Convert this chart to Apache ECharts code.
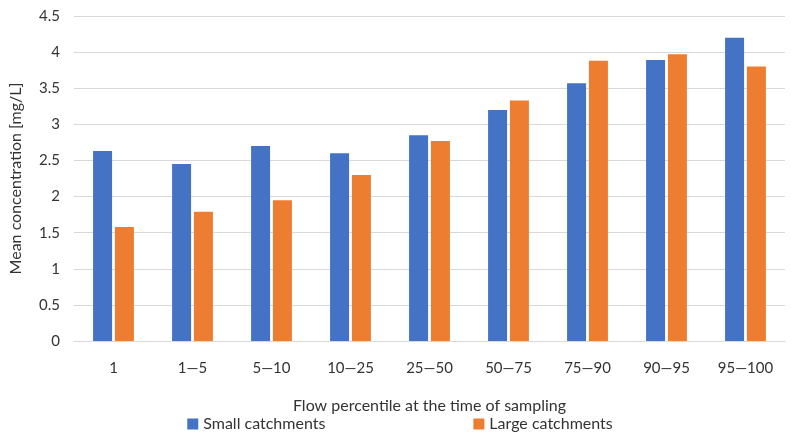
<!DOCTYPE html>
<html><head><meta charset="utf-8">
<script src="https://cdn.jsdelivr.net/npm/echarts@6/dist/echarts.min.js"></script>
<style>html,body{margin:0;background:#fff}#c{width:800px;height:445px}</style>
</head><body><div id="c"></div>
<script>
var categories = ['1', '1—5', '5—10', '10—25', '25—50', '50—75', '75—90', '90—95', '95—100'];
var smallValues = [2.63, 2.45, 2.70, 2.60, 2.85, 3.20, 3.57, 3.89, 4.20];
var largeValues = [1.58, 1.79, 1.95, 2.30, 2.77, 3.33, 3.88, 3.97, 3.80];

var font = 'Lato, "Noto Sans", sans-serif';
var chart = echarts.init(document.getElementById('c'));
chart.setOption({
  textStyle: { fontFamily: font },
  grid: { left: 73, right: 15, top: 16, bottom: 104 },
  legend: {
    bottom: 8, itemGap: 148, itemWidth: 11, itemHeight: 11, icon: 'rect',
    textStyle: { fontSize: 16, color: '#333', fontFamily: font },
    data: ['Small catchments', 'Large catchments']
  },
  xAxis: {
    type: 'category', data: categories,
    name: 'Flow percentile at the time of sampling', nameLocation: 'middle', nameGap: 57,
    nameTextStyle: { fontSize: 16, color: '#333' },
    axisLine: { lineStyle: { color: '#d9d9d9' } }, axisTick: { show: false },
    axisLabel: { fontSize: 15, color: '#333', margin: 20 }
  },
  yAxis: {
    type: 'value', min: 0, max: 4.5, interval: 0.5,
    name: 'Mean concentration [mg/L]', nameLocation: 'middle', nameGap: 50,
    nameTextStyle: { fontSize: 16, color: '#333' },
    axisLabel: { fontSize: 15, color: '#333', margin: 14 },
    splitLine: { lineStyle: { color: '#d9d9d9' } }
  },
  series: [
    { name: 'Small catchments', type: 'bar', data: smallValues, barWidth: 19, barGap: '15%',
      itemStyle: { color: '#4472c4' } },
    { name: 'Large catchments', type: 'bar', data: largeValues, barWidth: 19,
      itemStyle: { color: '#ed7d31' } }
  ]
});
</script></body></html>
